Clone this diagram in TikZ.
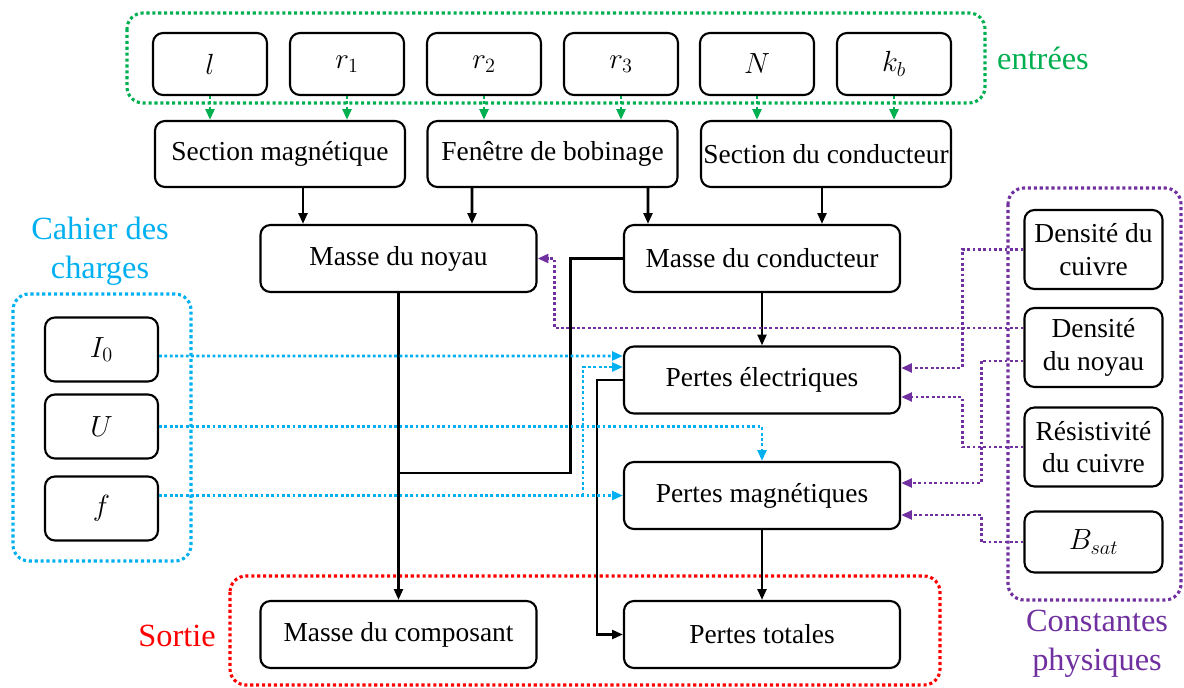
\documentclass[tikz,border=0pt]{standalone}
\usepackage{fontspec}
\setmainfont{Liberation Serif}
\usetikzlibrary{arrows.meta,calc}
\definecolor{cvert}{RGB}{0,176,80}
\definecolor{cbleu}{RGB}{0,176,240}
\definecolor{crouge}{RGB}{255,0,0}
\definecolor{cviolet}{RGB}{112,48,160}

\begin{document}
\begin{tikzpicture}[x=0.025cm,y=-0.025cm,font=\fontsize{19.5}{23}\selectfont,
bloc/.style={draw,line width=1.5pt,rounded corners=0.25cm,inner sep=0pt,align=center},
entree/.style={bloc,minimum width=2.85cm,minimum height=1.55cm},
calcul/.style={bloc,minimum width=6.25cm,minimum height=1.65cm},
grandeur/.style={bloc,minimum width=6.9cm,minimum height=1.675cm},
constante/.style={bloc,minimum width=3.45cm,minimum height=1.975cm},
groupe/.style={line width=2.2pt,dash pattern=on 2.2pt off 2pt,rounded corners=0.4cm},
lien/.style={line width=1.8pt,-{Triangle[length=0.27cm,width=0.22cm]}},
pointille/.style={line width=2pt,dash pattern=on 2pt off 1.8pt,-{Triangle[length=0.27cm,width=0.22cm]}},
titre/.style={font=\fontsize{23}{27.7}\selectfont,align=center}]
\useasboundingbox(0,0)rectangle(1184,688);
% cadres des groupes
\draw[groupe,cvert](127,13)rectangle(985,103);\draw[groupe,cbleu](13,294)rectangle(191,561);
\draw[groupe,crouge](230,576)rectangle(940,685);\draw[groupe,cviolet](1008,188)rectangle(1181,600);
\node[titre,cvert](tentrees)at(1043,58){entrées};\node[titre,cbleu](tcahier)at(100,251){Cahier des\\charges};
\node[titre,crouge](tsortie)at(177,636){Sortie};\node[titre,cviolet](tconst)at(1097,644){Constantes\\physiques};
% entrees
\foreach \nom/\x/\t in {l/210/l,r1/347/r_1,r2/484/r_2,r3/621/r_3,N/757/N,kb/894/k_b}\node[entree](\nom)at(\x,64){$\t$};
\node[calcul](secm)at(280,154){Section magnétique};\node[calcul](fb)at(552.5,154){Fenêtre de bobinage};\node[calcul](sc)at(826,154){Section du conducteur};
\foreach \nom in {l,r1,r2,r3,N,kb}\draw[pointille,cvert](\nom.south)--(\nom.south|-secm.north);
\node[grandeur](mn)at(398.5,258.5){Masse du noyau};\node[grandeur](mc)at(762,258.5){Masse du conducteur};
\node[grandeur](pe)at(762,380){Pertes électriques};\node[grandeur](pm)at(762,495.5){Pertes magnétiques};
\node[grandeur](mcomp)at(398.5,634.5){Masse du composant};\node[grandeur](pt)at(762,634.5){Pertes totales};
% cahier des charges
\node[entree,minimum width=2.825cm,minimum height=1.6cm](I0)at(101.5,349.5){$I_0$};\node[entree,minimum width=2.825cm,minimum height=1.6cm](U)at(101.5,426.5){$U$};\node[entree,minimum width=2.825cm,minimum height=1.6cm](f)at(101.5,508.5){$f$};
% constantes physiques
\node[constante](dc)at(1093.5,249.5){Densité du\\cuivre};\node[constante](dn)at(1093.5,347.5){Densité\\du noyau};\node[constante](rc)at(1093.5,447){Résistivité\\du cuivre};\node[constante,minimum height=1.525cm](bs)at(1093.5,542){$B_{sat}$};
% liens de calcul
\draw[lien]($(secm.south)+(23,0)$)--($(mn.north)+(-95.5,0)$);\draw[lien]($(fb.south)+(-80.5,0)$)--($(mn.north)+(73.5,0)$);
\draw[lien]($(fb.south)+(95.5,0)$)--($(mc.north)+(-114,0)$);\draw[lien]($(sc.south)+(-4,0)$)--($(mc.north)+(60,0)$);
\draw[lien](mn)--(mcomp);\draw[lien](mc)--(pe);\draw[lien](pm)--(pt);
\coordinate(j1)at(398.5,473);\draw[line width=1.8pt](mc.west)-|($(j1)+(172,0)$)--(j1);
\draw[lien](pe.west)--++(-26,0)|-(pt.west);
\draw[pointille,cbleu]($(I0.east)+(0,6.5)$)--($(pe.west)+(0,-24)$);\draw[pointille,cbleu](U.east)-|(pm.north);
\draw[pointille,cbleu]($(f.east)+(0,-13)$)--(pm.west);\coordinate(j2)at(583,495.5);\draw[pointille,cbleu](j2)|-($(pe.west)+(0,-13)$);
\draw[pointille,cviolet](dc.west)-|($(pe.east)+(61,-12)$)--($(pe.east)+(0,-12)$);
\draw[pointille,cviolet]($(dn.west)+(0,-19.5)$)-|($(mn.east)+(17,0)$)--(mn.east);
\draw[pointille,cviolet]($(dn.west)+(0,13.5)$)-|($(pm.east)+(80,-12.5)$)--($(pm.east)+(0,-12.5)$);
\draw[pointille,cviolet](rc.west)-|($(pe.east)+(61,17)$)--($(pe.east)+(0,17)$);
\draw[pointille,cviolet](bs.west)-|($(pm.east)+(80,19.5)$)--($(pm.east)+(0,19.5)$);
\end{tikzpicture}
\end{document}
